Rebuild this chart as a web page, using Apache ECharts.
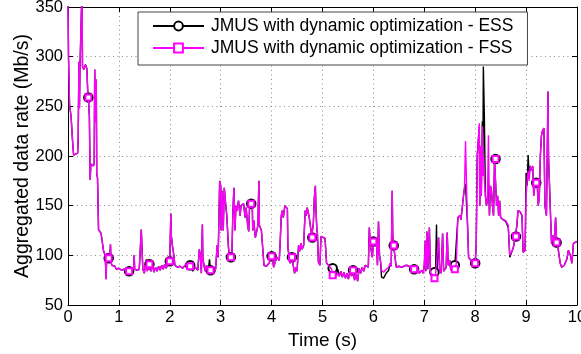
<!DOCTYPE html>
<html>
<head>
<meta charset="utf-8">
<script src="https://cdn.jsdelivr.net/npm/echarts@6/dist/echarts.min.js"></script>
<style>
html,body{margin:0;padding:0;background:#fff;}
#chart{width:581px;height:354px;}
</style>
</head>
<body>
<div id="chart"></div>
<script>
const times = [
  0,0.01,0.03,0.06,0.09, 0.11,0.19,0.2,0.215,0.225, 0.235,0.25,0.265,0.275,0.285, 0.31,0.34,0.37,0.39,0.4,
  0.42,0.435,0.45,0.5,0.515, 0.525,0.54,0.555,0.565,0.58, 0.6,0.63,0.65,0.68,0.7, 0.73,0.75,0.76,0.78,0.8,
  0.82,0.835,0.845,0.86,0.88, 0.92,0.95,
  1.0,1.05,1.1,1.15,1.2, 1.25,1.29,1.3,1.31,1.35, 1.4,1.43,1.44,1.46,1.47, 1.5,1.52,1.54,1.56,1.58,
  1.6,1.63,1.66,1.69,1.72, 1.75,1.78,1.81,1.84,1.87, 1.9,1.93,1.96,
  2.0,2.01,2.02,2.03,2.05, 2.08,2.1,2.15,2.2,2.25, 2.3,2.35,2.38,2.4,2.43, 2.45,2.5,2.55,2.58,2.6,
  2.62,2.64,2.65,2.68,2.7, 2.72,2.76,2.78,2.8,2.85, 2.9,2.93,2.95,2.98,
  3.0,3.01,3.03,3.05,3.07, 3.08,3.1,3.12,3.15,3.17, 3.2,3.22,3.24,3.26,3.28, 3.3,3.32,3.35,3.38,3.4,
  3.43,3.45,3.48,3.5,3.53, 3.55,3.57,3.6,3.62,3.63, 3.65,3.68,3.7,3.73,3.75, 3.76,3.78,3.8,3.83,3.85,
  3.9,3.95,
  4.0,4.02,4.04,4.1,4.15, 4.17,4.19,4.21,4.23,4.26, 4.29,4.31,4.32,4.34,4.36, 4.4,4.42,4.45,4.48,4.5,
  4.53,4.55,4.58,4.6,4.63, 4.66,4.68,4.7,4.72,4.74, 4.76,4.79,4.8,4.82,4.84, 4.86,4.87,4.89,4.9,4.92,
  4.95,4.97,
  5.0,5.05,5.08,5.12,5.18, 5.2,5.23,5.26,5.3,5.33, 5.36,5.39,5.42,5.45,5.48, 5.51,5.54,5.57,5.6,5.63,
  5.66,5.69,5.72,5.75,5.78, 5.81,5.84,5.87,5.9,5.92, 5.94,5.96,5.98,
  6.0,6.02,6.04,6.06,6.08, 6.1,6.12,6.14,6.16,6.2, 6.25,6.3,6.33,6.35,6.37, 6.38,6.4,6.42,6.45,6.5,
  6.55,6.6,6.65,6.7,6.75, 6.8,6.83,6.86,6.9,6.95, 6.98,
  7.0,7.02,7.03,7.05,7.07, 7.09,7.1,7.12,7.15,7.18, 7.2,7.22,7.24,7.25,7.28, 7.3,7.33,7.36,7.38,7.4,
  7.43,7.45,7.47,7.5,7.52, 7.55,7.6,7.63,7.66,7.7, 7.72,7.75,7.77,7.79,7.81, 7.83,7.85,7.87,7.9,7.93,
  7.96,
  8.0,8.02,8.04,8.06,8.08, 8.09,8.11,8.12,8.14,8.15, 8.16,8.18,8.2,8.22,8.24, 8.26,8.28,8.3,8.32,8.34,
  8.36,8.38,8.4,8.42,8.44, 8.46,8.48,8.5,8.55,8.6, 8.65,8.68,8.7,8.73,8.76, 8.78,8.8,8.82,8.84,8.88,
  8.92,8.94,8.98,
  9.0,9.02,9.04,9.06,9.08, 9.1,9.13,9.15,9.18,9.2, 9.22,9.24,9.26,9.28,9.3, 9.32,9.35,9.37,9.4,9.43,
  9.44,9.46,9.48,9.5,9.52, 9.55,9.58,9.6,9.62,9.65, 9.67,9.7,9.75,9.78,9.8, 9.83,9.85,9.87,9.9,9.93,
  9.96,10
];
const essRate = [
  360,300,252,240,215, 201,203,218,295,248, 288,286,290,370,290, 287,292,288,262,259,
  240,176,192,190,193, 287,234,277,182,178, 126,128,122,120,104, 100,76,102,96,97,
  98,111,94,90,88, 89,86,
  87,85,86,85,84, 86,87,100,86,85, 86,88,126,124,86, 82,90,96,84,89,
  91,84,90,83,88, 84,89,85,90,86, 91,87,92,
  94,95,142,120,110, 100,90,88,89,87, 90,92,92,90,88, 84,88,85,106,100,
  82,131,96,88,84, 90,86,96,85,84, 86,110,98,175,
  170,125,165,125,168, 170,150,140,110,97, 98,100,145,168,125, 150,145,155,140,150,
  148,152,138,148,130, 124,152,152,152,125, 135,118,122,130,175, 130,128,125,125,90,
  89,92,
  99,96,88,98,95, 115,140,145,138,150, 152,147,108,110,92, 98,100,82,88,84,
  110,104,112,106,110, 145,140,148,150,138, 130,120,118,132,158, 170,148,125,122,93,
  90,119,
  118,117,92,90,87, 87,84,80,86,79, 84,78,83,77,82, 76,85,79,85,75,
  82,74,87,82,88, 84,90,89,88,128, 110,108,98,
  114,110,108,113,90, 134,100,94,78,77, 82,85,92,89,165, 120,110,100,88,89,
  88,89,90,89,86, 86,84,88,82,85, 82,
  90,115,84,124,86, 110,128,82,80,82, 83,82,131,84,118, 86,82,122,84,82,
  88,123,90,95,85, 88,90,92,138,140, 136,150,160,168,172, 170,130,98,96,94,
  92,
  92,110,200,215,230, 150,210,160,235,180, 290,240,160,150,155, 175,140,170,165,150,
  140,197,197,150,160, 140,155,138,136,134, 128,98,97,105,110, 118,119,130,145,144,
  140,103,105,
  183,170,201,180,190, 185,190,160,175,173, 170,150,160,200,220, 225,228,150,140,265,
  200,170,140,112,120, 113,138,113,110,108, 92,88,90,91,96, 105,104,100,92,112,
  113,114
];
const fssRate = [
  360,300,252,240,215, 201,203,218,295,248, 288,286,290,370,290, 287,292,288,262,259,
  240,176,192,190,193, 287,234,277,182,178, 126,128,122,120,104, 100,76,102,96,97,
  98,111,94,90,88, 89,86,
  87,85,86,85,84, 86,87,100,86,85, 86,88,126,124,86, 82,90,88,84,89,
  91,84,90,83,88, 84,89,85,90,86, 91,87,92,
  94,95,142,120,110, 100,90,88,89,87, 90,92,91,89,86, 84,88,85,106,100,
  82,131,96,88,84, 90,86,88,85,84, 86,110,98,175,
  170,125,165,125,168, 170,150,140,110,97, 98,100,145,168,125, 150,145,155,140,150,
  148,152,138,148,130, 124,152,152,152,125, 135,118,122,130,175, 130,128,125,125,90,
  89,92,
  99,96,88,98,95, 115,140,145,138,150, 152,147,108,110,92, 98,100,82,88,84,
  110,104,112,106,110, 145,140,148,150,138, 130,120,118,132,158, 170,148,125,122,93,
  90,119,
  118,117,92,90,86, 80,80,78,82,79, 84,78,83,77,82, 76,85,79,85,75,
  82,74,87,82,88, 84,90,89,88,128, 110,108,98,
  114,110,108,113,90, 134,100,94,85,83, 86,88,92,89,165, 120,110,100,88,89,
  88,89,90,89,86, 86,84,88,82,85, 82,
  90,115,84,124,86, 110,128,82,84,80, 77,80,82,80,118, 86,82,122,84,82,
  88,123,90,95,85, 88,86,92,138,140, 136,150,160,168,215, 170,130,98,96,94,
  92,
  92,110,200,215,233, 150,210,160,230,180, 200,175,160,150,155, 221,140,170,165,150,
  140,197,197,150,160, 140,155,138,136,135, 130,100,99,105,110, 118,119,130,145,144,
  140,103,105,
  160,175,185,175,190, 185,190,160,175,173, 170,150,160,200,220, 225,228,150,140,265,
  200,170,140,112,120, 113,138,113,110,108, 92,88,90,91,96, 105,104,100,92,112,
  113,114
];
const markerTimes = [0.4,0.8,1.2,1.6,2.0,2.4,2.8,3.2,3.6,4.0,4.4,4.8,5.2,5.6,6.0,6.4,6.8,7.2,7.6,8.0,8.4,8.8,9.2,9.6];
const seriesNames = ['JMUS with dynamic optimization - ESS', 'JMUS with dynamic optimization - FSS'];
const xTicks = {min: 0, max: 10, interval: 1};
const yTicks = {min: 50, max: 350, interval: 50};

function isMarker(t) { return markerTimes.some(m => Math.abs(m - t) < 1e-9); }
function buildData(vals) {
  return times.map((t, i) => isMarker(t) ? {value: [t, vals[i]]} : {value: [t, vals[i]], symbol: 'none'});
}

const FONT = '"Liberation Sans", Arial, Helvetica, sans-serif';
const chart = echarts.init(document.getElementById('chart'), null, {renderer: 'canvas'});
const gridLine = {show: true, lineStyle: {color: '#8a8a8a', width: 1, type: [1, 3.5]}};
const axisBase = {
  type: 'value',
  axisLine: {show: true, onZero: false, lineStyle: {color: '#000', width: 1}},
  axisTick: {show: true, inside: true, length: 5, lineStyle: {color: '#000'}},
};
chart.setOption({
  animation: false,
  backgroundColor: '#fff',
  textStyle: {fontFamily: FONT},
  grid: {left: 68, right: 4, top: 7, bottom: 49, containLabel: false, outerBoundsMode: 'none'},
  legend: {
    data: seriesNames,
    orient: 'vertical',
    left: 138, top: 12,
    padding: [5, 14, 8, 14],
    itemGap: 4,
    itemWidth: 51, itemHeight: 11,
    backgroundColor: '#fff',
    borderColor: '#444', borderWidth: 1,
    textStyle: {fontFamily: FONT, fontSize: 17.5, color: '#000', padding: [0, 0, 0, 2]}
  },
  xAxis: [
    Object.assign({}, axisBase, {
      min: xTicks.min, max: xTicks.max, interval: xTicks.interval,
      position: 'bottom',
      axisLabel: {fontSize: 16.5, color: '#000', margin: 4, fontFamily: FONT},
      splitLine: gridLine,
      name: 'Time (s)', nameLocation: 'middle', nameGap: 26, nameMoveOverlap: false,
      nameTextStyle: {fontSize: 19, color: '#000', fontFamily: FONT}
    }),
    Object.assign({}, axisBase, {
      min: xTicks.min, max: xTicks.max, interval: xTicks.interval,
      position: 'top', axisLabel: {show: false}, splitLine: {show: false}
    })
  ],
  yAxis: [
    Object.assign({}, axisBase, {
      min: yTicks.min, max: yTicks.max, interval: yTicks.interval,
      position: 'left',
      axisLabel: {fontSize: 16.5, color: '#000', margin: 5, fontFamily: FONT},
      splitLine: gridLine,
      name: 'Aggregated data rate (Mb/s)', nameLocation: 'middle', nameGap: 35, nameMoveOverlap: false,
      nameTextStyle: {fontSize: 19.5, color: '#000', fontFamily: FONT}
    }),
    Object.assign({}, axisBase, {
      min: yTicks.min, max: yTicks.max, interval: yTicks.interval,
      position: 'right', axisLabel: {show: false}, splitLine: {show: false}
    })
  ],
  series: [
    {
      name: seriesNames[0], type: 'line', data: buildData(essRate),
      symbol: 'emptyCircle', symbolSize: 8.5, showAllSymbol: true,
      lineStyle: {color: '#000', width: 1.4},
      itemStyle: {color: '#000', borderColor: '#000', borderWidth: 1},
      emphasis: {disabled: true}, clip: true, z: 2
    },
    {
      name: seriesNames[1], type: 'line', data: buildData(fssRate),
      symbol: 'emptyRect', symbolSize: 6, showAllSymbol: true,
      lineStyle: {color: '#ff00ff', width: 1.4},
      itemStyle: {color: '#ff00ff', borderColor: '#ff00ff', borderWidth: 1},
      emphasis: {disabled: true}, clip: true, z: 3
    }
  ]
});
</script>
</body>
</html>
